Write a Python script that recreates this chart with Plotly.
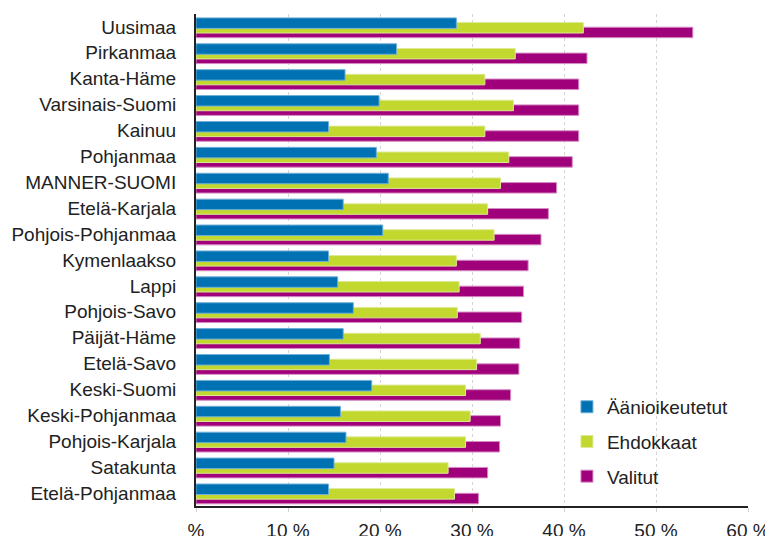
import plotly.graph_objects as go

regions = ["Uusimaa", "Pirkanmaa", "Kanta-Häme", "Varsinais-Suomi", "Kainuu",
           "Pohjanmaa", "MANNER-SUOMI", "Etelä-Karjala", "Pohjois-Pohjanmaa",
           "Kymenlaakso", "Lappi", "Pohjois-Savo", "Päijät-Häme", "Etelä-Savo",
           "Keski-Suomi", "Keski-Pohjanmaa", "Pohjois-Karjala", "Satakunta",
           "Etelä-Pohjanmaa"]

aanioikeutetut = [28.3, 21.8, 16.2, 19.9, 14.4, 19.6, 20.9, 16.0, 20.3, 14.4,
                  15.4, 17.1, 16.0, 14.5, 19.1, 15.7, 16.3, 15.0, 14.4]
ehdokkaat = [42.1, 34.7, 31.4, 34.5, 31.4, 34.0, 33.1, 31.7, 32.4, 28.3,
             28.6, 28.4, 30.9, 30.5, 29.3, 29.8, 29.3, 27.4, 28.1]
valitut = [54.0, 42.5, 41.6, 41.6, 41.6, 40.9, 39.2, 38.3, 37.5, 36.1,
           35.6, 35.4, 35.2, 35.1, 34.2, 33.1, 33.0, 31.7, 30.7]

tick_vals = [0, 10, 20, 30, 40, 50, 60]
tick_text = ["%", "10 %", "20 %", "30 %", "40 %", "50 %", "60 %"]

series = [
    ("Valitut", valitut, "#A0007A", "#D58CC4", 0.01, 3),
    ("Ehdokkaat", ehdokkaat, "#C2D82F", "#DDEA94", -0.17, 2),
    ("Äänioikeutetut", aanioikeutetut, "#0071B2", "#6FB0D8", -0.35, 1),
]

fig = go.Figure()
for name, vals, col, lcol, off, rank in series:
    fig.add_trace(go.Bar(
        y=regions, x=vals, name=name, orientation="h",
        marker=dict(color=col, line=dict(color=lcol, width=1)),
        width=0.405, offset=off, legendrank=rank, legendgroup=name,
    ))

fig.update_layout(
    width=765, height=528,
    margin=dict(l=188, r=25, t=6, b=30),
    barmode="overlay",
    plot_bgcolor="white", paper_bgcolor="white",
    font=dict(family="Liberation Sans, Arial, sans-serif", size=19, color="#222222"),
    legend=dict(x=0.672, y=0.24, xanchor="left", yanchor="top",
                bgcolor="rgba(0,0,0,0)", tracegroupgap=7,
                font=dict(size=19)),
    xaxis=dict(range=[0, 60], tickvals=tick_vals, ticktext=tick_text,
               showgrid=True, gridcolor="#D4D4D4", gridwidth=1, griddash="dot",
               showline=True, linecolor="#222222", linewidth=1.5,
               zeroline=False, ticks="outside", ticklen=4, tickcolor="#D4D4D4",
               ticklabelstandoff=2, fixedrange=True, automargin=False),
    yaxis=dict(type="category", autorange="reversed", showgrid=False,
               showline=True, linecolor="#222222", linewidth=2,
               ticks="", ticklabelstandoff=14, fixedrange=True,
               automargin=False),
)

fig.write_html("out.html")
